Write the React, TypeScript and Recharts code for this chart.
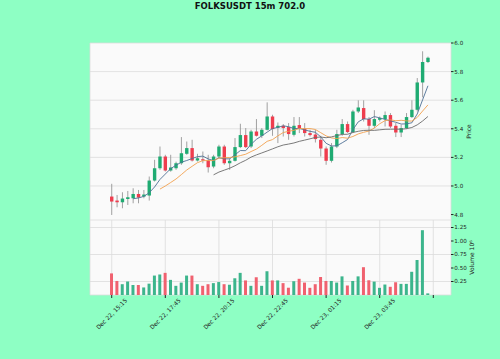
import React from 'react';
import { ComposedChart, Bar, Line, XAxis, YAxis, CartesianGrid, Cell } from 'recharts';

// 15m candles, Dec 22 15:15 -> Dec 23 ~06:00
const opens = [
  4.926, 4.898, 4.886, 4.909, 4.914, 4.944, 4.926, 4.933, 5.038, 5.124,
  5.206, 5.108, 5.124, 5.159, 5.225, 5.265, 5.178, 5.187, 5.178, 5.136,
  5.206, 5.276, 5.159, 5.176, 5.272, 5.356, 5.276, 5.381, 5.351, 5.393,
  5.486, 5.407, 5.421, 5.412, 5.358, 5.426, 5.400, 5.370, 5.360, 5.323,
  5.262, 5.176, 5.276, 5.363, 5.433, 5.377, 5.521, 5.545, 5.468, 5.421,
  5.463, 5.468, 5.496, 5.421, 5.374, 5.405, 5.482, 5.533, 5.724, 5.867,
];
const highs = [
  5.015, 4.937, 4.956, 4.965, 4.984, 4.972, 4.972, 5.066, 5.183, 5.276,
  5.218, 5.218, 5.170, 5.342, 5.311, 5.323, 5.225, 5.241, 5.218, 5.218,
  5.288, 5.288, 5.194, 5.335, 5.435, 5.405, 5.393, 5.468, 5.405, 5.585,
  5.498, 5.444, 5.433, 5.440, 5.482, 5.482, 5.440, 5.393, 5.393, 5.351,
  5.276, 5.300, 5.393, 5.468, 5.451, 5.533, 5.599, 5.599, 5.482, 5.530,
  5.486, 5.521, 5.510, 5.440, 5.428, 5.510, 5.599, 5.755, 5.942, 5.905,
];
const lows = [
  4.797, 4.851, 4.844, 4.867, 4.879, 4.879, 4.914, 4.898, 5.031, 5.113,
  5.101, 5.100, 5.113, 5.148, 5.218, 5.171, 5.171, 5.159, 5.094, 5.124,
  5.194, 5.148, 5.113, 5.171, 5.265, 5.265, 5.265, 5.346, 5.335, 5.388,
  5.351, 5.300, 5.346, 5.323, 5.346, 5.370, 5.346, 5.346, 5.304, 5.206,
  5.148, 5.164, 5.265, 5.351, 5.370, 5.370, 5.510, 5.451, 5.358, 5.405,
  5.451, 5.416, 5.405, 5.342, 5.342, 5.398, 5.475, 5.521, 5.620, 5.860,
];
const closes = [
  4.891, 4.886, 4.912, 4.921, 4.944, 4.919, 4.940, 5.038, 5.124, 5.206,
  5.108, 5.129, 5.159, 5.229, 5.265, 5.178, 5.194, 5.178, 5.131, 5.206,
  5.276, 5.159, 5.176, 5.272, 5.356, 5.272, 5.381, 5.351, 5.393, 5.486,
  5.398, 5.421, 5.405, 5.363, 5.421, 5.402, 5.370, 5.356, 5.328, 5.262,
  5.176, 5.276, 5.363, 5.433, 5.377, 5.521, 5.549, 5.468, 5.421, 5.468,
  5.475, 5.496, 5.416, 5.374, 5.405, 5.482, 5.533, 5.724, 5.867, 5.897,
];
// volume in millions
const volumes = [
  0.40, 0.26, 0.20, 0.25, 0.185, 0.185, 0.14, 0.21, 0.36, 0.38,
  0.41, 0.28, 0.17, 0.23, 0.36, 0.36, 0.20, 0.17, 0.20, 0.22,
  0.24, 0.20, 0.19, 0.31, 0.41, 0.27, 0.17, 0.33, 0.17, 0.44,
  0.27, 0.27, 0.22, 0.135, 0.255, 0.30, 0.23, 0.133, 0.20, 0.333,
  0.26, 0.26, 0.23, 0.345, 0.176, 0.26, 0.345, 0.515, 0.273, 0.248,
  0.133, 0.194, 0.152, 0.236, 0.206, 0.206, 0.43, 0.648, 1.20, 0.03,
];

const tickIdx = [0, 10, 20, 30, 40, 50, 60];
const tickLabels = ['Dec 22, 15:15', 'Dec 22, 17:45', 'Dec 22, 20:15', 'Dec 22, 22:45', 'Dec 23, 01:15', 'Dec 23, 03:45', ''];
const priceTicks = [4.8, 5.0, 5.2, 5.4, 5.6, 5.8, 6.0];
const volTicks = [0.25, 0.5, 0.75, 1.0, 1.25];
const maPeriods = [5, 10, 20];
const maColors = ['#4d6f94', '#f2a04e', '#6b6b6b'];

const UP = '#1fab72';
const DOWN = '#ef3d4e';
const VOL_UP = '#3cb58c';
const VOL_DOWN = '#f0616f';
const WICK = '#8a8a8a';
const X_DOMAIN: [number, number] = [-4.05, 63.3];

function sma(period: number, i: number) {
  if (i < period - 1) return null;
  let s = 0;
  for (let k = i - period + 1; k <= i; k++) s += closes[k];
  return s / period;
}

const data = opens.map((o, i) => {
  const row: any = {
    i,
    open: o,
    high: highs[i],
    low: lows[i],
    close: closes[i],
    vol: volumes[i],
    up: closes[i] >= o,
  };
  maPeriods.forEach(p => {
    row['ma' + p] = sma(p, i);
  });
  return row;
});

const Candle = (props: any) => {
  const { x, y, width, height, payload } = props;
  if (x == null || y == null) return null;
  const { open, close, high, low } = payload;
  const span = high - low || 1;
  const py = (p: number) => y + ((high - p) / span) * height;
  const cx = x + width / 2;
  const top = py(Math.max(open, close));
  const bot = py(Math.min(open, close));
  return (
    <g>
      <line x1={cx} x2={cx} y1={y} y2={y + height} stroke={WICK} strokeWidth={0.8} />
      <rect x={x} y={top} width={width} height={Math.max(bot - top, 0.9)} fill={close >= open ? UP : DOWN} />
    </g>
  );
};

const XTick = ({ x, payload }: any) => {
  const label = tickLabels[tickIdx.indexOf(payload.value)] || '';
  const cy = 94;
  return (
    <text
      x={x}
      y={cy}
      transform={`rotate(-45 ${x} ${cy})`}
      textAnchor="middle"
      dominantBaseline="central"
      fontSize={5.8}
      fill="#222"
    >
      {label}
    </text>
  );
};

// rotated axis title, centred on the axis
const AxisTitle = ({ viewBox, text, dx }: any) => {
  const { x, y, height } = viewBox;
  const cx = x + dx;
  const cy = y + height / 2;
  return (
    <text
      x={cx}
      y={cy}
      transform={`rotate(-90 ${cx} ${cy})`}
      textAnchor="middle"
      dominantBaseline="central"
      fontSize={6}
      fill="#222"
    >
      {text}
    </text>
  );
};

const tickStyle = { fontSize: 5.6, fill: '#222' };

export default function App() {
  return (
    <div
      style={{
        position: 'absolute',
        left: 0,
        top: 0,
        width: 500,
        height: 359,
        background: '#8effc4',
        fontFamily: 'DejaVu Sans',
        overflow: 'hidden',
      }}
    >
      <div
        style={{
          position: 'absolute',
          top: 1,
          left: 0,
          width: 500,
          textAlign: 'center',
          fontWeight: 'bold',
          fontSize: 8.5,
          color: '#111',
        }}
      >
        FOLKSUSDT 15m 702.0
      </div>

      <div style={{ position: 'absolute', left: 0, top: 0 }}>
        <ComposedChart width={500} height={220} data={data} margin={{ top: 43, right: 0, left: 90, bottom: 0 }}>
          <CartesianGrid fill="#fafafa" stroke="#dcdcdc" strokeWidth={0.8} />
          <XAxis
            type="number"
            dataKey="i"
            domain={X_DOMAIN}
            ticks={tickIdx}
            allowDataOverflow
            tick={false}
            tickLine={false}
            axisLine={false}
            height={0}
          />
          <YAxis
            orientation="right"
            width={49}
            domain={[4.762, 6.0]}
            ticks={priceTicks}
            allowDataOverflow
            tickFormatter={(v: number) => v.toFixed(1)}
            tick={tickStyle}
            tickSize={2.5}
            tickMargin={0.8}
            tickLine={{ stroke: '#222' }}
            axisLine={false}
            label={<AxisTitle text="Price" dx={17} />}
          />
          <Bar
            dataKey={(d: any) => [d.low, d.high]}
            barSize={3.4}
            shape={<Candle />}
            isAnimationActive={false}
          />
          {maPeriods.map((p, k) => (
            <Line
              key={p}
              type="linear"
              dataKey={'ma' + p}
              stroke={maColors[k]}
              strokeWidth={0.9}
              dot={false}
              activeDot={false}
              connectNulls={false}
              isAnimationActive={false}
            />
          ))}
        </ComposedChart>
      </div>

      <div style={{ position: 'absolute', left: 0, top: 220 }}>
        <ComposedChart width={500} height={139} data={data} margin={{ top: 0, right: 0, left: 90, bottom: 0 }}>
          <CartesianGrid fill="#fafafa" stroke="#dcdcdc" strokeWidth={0.8} />
          <XAxis
            type="number"
            dataKey="i"
            domain={X_DOMAIN}
            ticks={tickIdx}
            allowDataOverflow
            height={64}
            tick={<XTick />}
            tickSize={3}
            tickLine={{ stroke: '#222' }}
            axisLine={false}
          />
          <YAxis
            orientation="right"
            width={49}
            domain={[0, 1.389]}
            ticks={volTicks}
            allowDataOverflow
            tickFormatter={(v: number) => v.toFixed(2)}
            tick={tickStyle}
            tickSize={2.5}
            tickMargin={0.8}
            tickLine={{ stroke: '#222' }}
            axisLine={false}
            label={<AxisTitle text="Volume  10⁶" dx={20} />}
          />
          <Bar dataKey="vol" barSize={3} isAnimationActive={false}>
            {data.map((d, i) => (
              <Cell key={i} fill={d.up ? VOL_UP : VOL_DOWN} />
            ))}
          </Bar>
        </ComposedChart>
      </div>
    </div>
  );
}
